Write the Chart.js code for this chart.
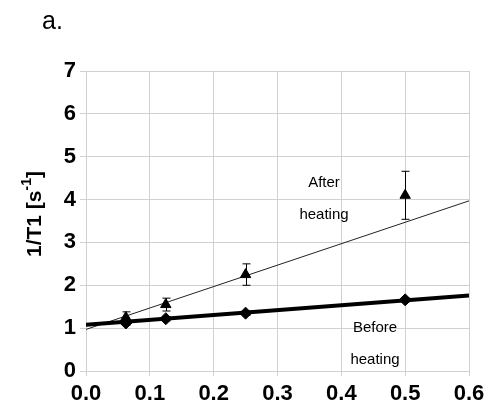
<!DOCTYPE html>
<html lang="en">
<head>
  <meta charset="UTF-8">
  <title>1/T1 vs concentration</title>
  <script src="https://cdn.jsdelivr.net/npm/chart.js"></script>
  <style>
    body { margin: 0; background: #fff; }
    #wrap { width: 490px; height: 406px; }
  </style>
</head>
<body>
  <div id="wrap"><canvas id="t1Chart" width="490" height="406"></canvas></div>

  <script>
    // data
    const xValues = [0.0625, 0.125, 0.25, 0.5];
    const afterY = [1.25, 1.55, 2.25, 4.1];
    const afterErr = [0.13, 0.15, 0.25, 0.56];
    const beforeY = [1.12, 1.22, 1.35, 1.66];
    const beforeErr = [0.05, 0.05, 0.05, 0.05];
    const trendX = [0, 0.6];
    const afterTrend = [0.97, 3.97];
    const beforeTrend = [1.08, 1.76];
    const xTicks = [0, 0.1, 0.2, 0.3, 0.4, 0.5, 0.6];
    const yTicks = [0, 1, 2, 3, 4, 5, 6, 7];

    const pts = (xs, ys) => xs.map((x, i) => ({ x: x, y: ys[i] }));

    // error bars, drawn from the scales
    const errorBars = {
      id: 'errorBars',
      afterDatasetsDraw(chart) {
        const ctx = chart.ctx;
        const xs = chart.scales.x, ys = chart.scales.y;
        ctx.save();
        ctx.strokeStyle = '#000';
        ctx.lineWidth = 1;
        [[afterY, afterErr], [beforeY, beforeErr]].forEach(([vals, errs]) => {
          xValues.forEach((x, i) => {
            const px = Math.round(xs.getPixelForValue(x)) + 0.5;
            const top = ys.getPixelForValue(vals[i] + errs[i]);
            const bot = ys.getPixelForValue(vals[i] - errs[i]);
            ctx.beginPath();
            ctx.moveTo(px, top); ctx.lineTo(px, bot);
            ctx.moveTo(px - 4, top); ctx.lineTo(px + 4, top);
            ctx.moveTo(px - 4, bot); ctx.lineTo(px + 4, bot);
            ctx.stroke();
          });
        });
        ctx.restore();
      }
    };

    // panel letter, series notes and y title with superscript
    const labels = {
      id: 'labels',
      afterDraw(chart) {
        const ctx = chart.ctx;
        ctx.save();
        ctx.fillStyle = '#000';
        ctx.font = '25px Arial, "Liberation Sans", sans-serif';
        ctx.textAlign = 'left';
        ctx.textBaseline = 'alphabetic';
        ctx.fillText('a.', 42, 29);

        ctx.font = '15px Arial, "Liberation Sans", sans-serif';
        ctx.textAlign = 'center';
        ctx.textBaseline = 'middle';
        ctx.fillText('After', 324, 183);
        ctx.fillText('heating', 324, 215);
        ctx.fillText('Before', 375, 328);
        ctx.fillText('heating', 375, 360);

        // y axis title
        ctx.translate(35, 214);
        ctx.rotate(-Math.PI / 2);
        const big = 'bold 21px Arial, "Liberation Sans", sans-serif';
        const small = 'bold 14px Arial, "Liberation Sans", sans-serif';
        ctx.font = big;
        const w1 = ctx.measureText('1/T1 [s').width;
        const w3 = ctx.measureText(']').width;
        ctx.font = small;
        const w2 = ctx.measureText('-1').width;
        let x0 = -(w1 + w2 + w3) / 2;
        ctx.textAlign = 'left';
        ctx.textBaseline = 'middle';
        ctx.font = big;
        ctx.fillText('1/T1 [s', x0, 0);
        ctx.font = small;
        ctx.fillText('-1', x0 + w1, -8);
        ctx.font = big;
        ctx.fillText(']', x0 + w1 + w2, 0);
        ctx.restore();
      }
    };

    const tickFont = { family: 'Arial, "Liberation Sans", sans-serif', size: 22, weight: 'bold' };

    new Chart(document.getElementById('t1Chart'), {
      type: 'scatter',
      data: {
        datasets: [
          {
            label: 'After heating trend',
            data: pts(trendX, afterTrend),
            showLine: true,
            borderColor: '#222',
            borderWidth: 1,
            pointRadius: 0,
            order: 3
          },
          {
            label: 'Before heating trend',
            data: pts(trendX, beforeTrend),
            showLine: true,
            borderColor: '#000',
            borderWidth: 4,
            pointRadius: 0,
            order: 2
          },
          {
            label: 'After heating',
            data: pts(xValues, afterY),
            pointStyle: 'triangle',
            pointRadius: 6,
            backgroundColor: '#000',
            borderColor: '#000',
            order: 1
          },
          {
            label: 'Before heating',
            data: pts(xValues, beforeY),
            pointStyle: 'rectRot',
            pointRadius: 6,
            backgroundColor: '#000',
            borderColor: '#000',
            order: 0
          }
        ]
      },
      options: {
        responsive: false,
        animation: false,
        layout: { padding: { left: 0, top: 71, right: 21, bottom: 0 } },
        plugins: {
          legend: { display: false },
          tooltip: { enabled: false }
        },
        scales: {
          x: {
            type: 'linear',
            min: 0,
            max: 0.6,
            afterBuildTicks: (s) => { s.ticks = xTicks.map(v => ({ value: v })); },
            afterFit: (s) => { s.height = 35; },
            ticks: {
              color: '#000',
              font: tickFont,
              padding: 5,
              callback: v => v.toFixed(1)
            },
            grid: { color: '#d0d0d0', tickLength: 5, tickColor: '#d0d0d0' },
            border: { display: false }
          },
          y: {
            min: 0,
            max: 7,
            afterBuildTicks: (s) => { s.ticks = yTicks.map(v => ({ value: v })); },
            afterFit: (s) => { s.width = 86; },
            ticks: {
              color: '#000',
              font: tickFont,
              padding: 4
            },
            grid: { color: '#d0d0d0', tickLength: 6, tickColor: '#d0d0d0' },
            border: { display: false }
          }
        }
      },
      plugins: [errorBars, labels]
    });
  </script>
</body>
</html>
